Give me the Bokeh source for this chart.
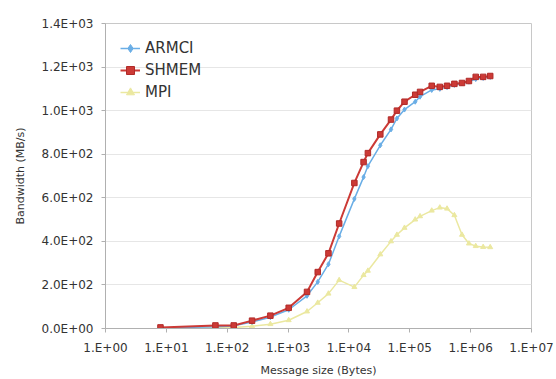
from bokeh.plotting import figure
from bokeh.models import Range1d, FixedTicker, CustomJSTickFormatter, Legend, LegendItem
from bokeh.embed import file_html
from bokeh.resources import INLINE

sizes = [8, 64, 128, 256, 512, 1024, 2048, 3072, 4608, 6912, 12288, 17408, 20480,
         32768, 49152, 61440, 81920, 122880, 147456, 229376, 311296, 409600, 540672,
         720896, 937984, 1212416, 1605632, 2097152]
armci = [2, 8, 12, 30, 52, 86, 150, 214, 295, 423, 595, 695, 745,
         841, 914, 964, 1005, 1041, 1064, 1095, 1100, 1108, 1118,
         1125, 1133, 1145, 1150, 1155]
shmem = [5, 14, 14, 36, 59, 95, 168, 259, 345, 482, 668, 764, 805,
         891, 959, 1000, 1041, 1073, 1086, 1114, 1109, 1114, 1123,
         1127, 1136, 1155, 1155, 1159]
mpi = [1, 3, 5, 10, 20, 38, 78, 118, 160, 222, 190, 245, 265,
       340, 400, 430, 462, 500, 515, 541, 555, 550, 520,
       430, 390, 378, 374, 373]

x_ticks = [1, 10, 100, 1000, 10000, 100000, 1000000, 10000000]
y_ticks = [0, 200, 400, 600, 800, 1000, 1200, 1400]

FONT = "DejaVu Sans"

p = figure(width=556, height=379, x_axis_type="log", output_backend="svg",
           toolbar_location=None, x_range=Range1d(1, 1e7), y_range=Range1d(0, 1400),
           min_border_left=105, min_border_right=25, min_border_top=23, min_border_bottom=47)
p.background_fill_color = "white"
p.border_fill_color = "white"
p.outline_line_color = "#c8c8c8"

p.xaxis.ticker = FixedTicker(ticks=x_ticks, minor_ticks=[])
p.yaxis.ticker = FixedTicker(ticks=y_ticks, minor_ticks=[])
p.xaxis.formatter = CustomJSTickFormatter(code="""
const e = Math.round(Math.log10(tick));
return "1.E+" + (e < 10 ? "0" : "") + e;
""")
p.yaxis.formatter = CustomJSTickFormatter(code="""
return tick.toExponential(1).replace("e+", "E+0");
""")

for ax in (p.xaxis, p.yaxis):
    ax.axis_line_color = "#b0b0b0"
    ax.major_tick_line_color = "#b0b0b0"
    ax.minor_tick_line_color = None
    ax.major_tick_in = 0
    ax.major_tick_out = 4
    ax.major_label_text_font = FONT
    ax.major_label_text_font_size = "12px"
    ax.major_label_text_color = "#333333"
    ax.axis_label_text_font = FONT
    ax.axis_label_text_font_size = "11px"
    ax.axis_label_text_font_style = "normal"
    ax.axis_label_text_color = "#333333"

p.xaxis.axis_label = "Message size (Bytes)"
p.yaxis.axis_label = "Bandwidth (MB/s)"
p.xaxis.major_label_standoff = 8
p.yaxis.major_label_standoff = 8
p.xaxis.axis_label_standoff = 6
p.yaxis.axis_label_standoff = 12

p.xgrid.grid_line_color = None
p.ygrid.grid_line_color = "#e6e6e6"

c_armci = "#6aaee6"
c_shmem = "#cc3a36"
c_mpi = "#ebe8a0"

l3 = p.line(sizes, mpi, line_color=c_mpi, line_width=1.5)
m3 = p.scatter(sizes, mpi, marker="triangle", size=5, fill_color=c_mpi, line_color=c_mpi)
l1 = p.line(sizes, armci, line_color=c_armci, line_width=1.5)
m1 = p.scatter(sizes, armci, marker="diamond", size=5, fill_color=c_armci, line_color=c_armci)
l2 = p.line(sizes, shmem, line_color=c_shmem, line_width=2)
m2 = p.scatter(sizes, shmem, marker="square", size=5.5, fill_color=c_shmem, line_color="#b02a28")

legend = Legend(items=[
    LegendItem(label="ARMCI", renderers=[l1, m1]),
    LegendItem(label="SHMEM", renderers=[l2, m2]),
    LegendItem(label="MPI", renderers=[l3, m3]),
], location="top_left")
legend.border_line_color = None
legend.background_fill_alpha = 0
legend.margin = 15
legend.padding = 10
legend.spacing = 2
legend.glyph_width = 20
legend.label_standoff = 5
legend.label_text_font = FONT
legend.label_text_font_size = "15px"
legend.label_text_color = "#333333"
p.add_layout(legend)

open("out.html", "w").write(file_html(p, INLINE))
